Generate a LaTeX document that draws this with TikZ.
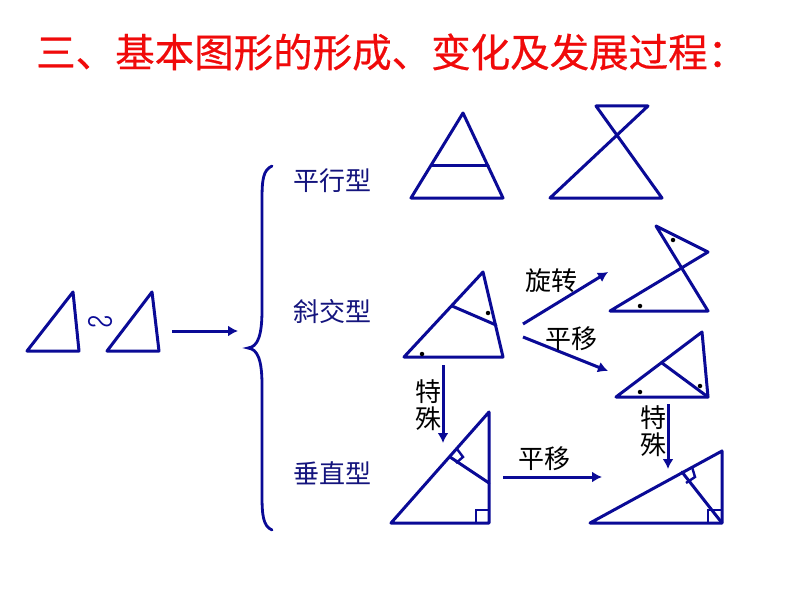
\documentclass[tikz,border=0pt]{standalone}
\usepackage{fontspec}
\usepackage{xcolor}
\usetikzlibrary{arrows.meta,positioning}
\setmainfont{Noto Sans CJK SC}
\newfontfamily\titlefont[FakeBold=0.5]{Noto Sans CJK SC}
\definecolor{navy}{HTML}{0A0A96}
\definecolor{labelblue}{HTML}{14147D}
\definecolor{titlered}{HTML}{F00A0A}

\begin{document}
\begin{tikzpicture}[
  x=1pt,y=-1pt,
  fig/.style={draw=navy,line width=3pt,line join=round,line cap=round},
  tick/.style={draw=navy,line width=2.4pt,line join=miter},
  arr/.style={draw=navy,line width=3pt,-{Latex[length=10pt,width=11pt]}},
  kind/.style={font=\fontsize{26}{26}\selectfont,color=labelblue,inner sep=0pt},
  move/.style={font=\fontsize{26}{26}\selectfont,color=black,inner sep=0pt},
  spot/.style={circle,fill=black,inner sep=0pt,minimum size=4.5pt}
]
\useasboundingbox[fill=white] (0,0) rectangle (794,596);
\node[font=\titlefont\fontsize{39.5}{39.5}\selectfont,color=titlered,anchor=west,inner sep=0pt] (title) at (36,52) {三、基本图形的形成、变化及发展过程：};

% similar pair on the left
\draw[fig] (73,292) -- (27,351) -- (79,351) -- cycle;
\draw[fig] (152,292) -- (107,351) -- (159,351) -- cycle;
\node[font=\fontsize{26}{26}\selectfont,color=navy,inner sep=0pt] (sim) at (100,324) {\reflectbox{∽}};

% brace and the three kinds
\coordinate (left) at (172,331);
\coordinate (bracein) at (238,331);
\draw[arr] (left) -- (bracein);
\draw[navy,line width=2.8pt,line cap=round] (272,166) .. controls (263,170) and (262,180) .. (262,200)
  -- (262,310) .. controls (262,335) and (258,347) .. (248,348)
  .. controls (258,349) and (262,361) .. (262,385)
  -- (262,495) .. controls (262,515) and (263,526) .. (272,530);
\node[kind] (parallel) at (332,181) {平行型};
\node[kind] (oblique) at (332,312) {斜交型};
\node[kind] (vertical) at (332,473) {垂直型};

% parallel type
\draw[fig] (463,113) -- (411,198) -- (503,198) -- cycle;
\draw[fig] (432,166) -- (488,166);
\draw[fig] (550,198) -- (662,198) -- (596,106) -- (648,106) -- cycle;

% oblique type
\draw[fig] (483,272) -- (404,357) -- (503,357) -- cycle;
\draw[fig] (452,306) -- (496,325);
\node[spot] (a1) at (488,313) {};
\node[spot] (a2) at (422,354) {};
% rotated copy
\draw[fig] (610,311) -- (708,311) -- (656,226) -- (708,252) -- cycle;
\node[spot] (b1) at (673,240) {};
\node[spot] (b2) at (640,306) {};
% translated copy
\draw[fig] (702,332) -- (616,397) -- (708,397) -- cycle;
\draw[fig] (662,363) -- (708,397);
\node[spot] (c1) at (640,392) {};
\node[spot] (c2) at (700,386) {};

% perpendicular type
\draw[fig] (489,412) -- (391,523) -- (489,523) -- cycle;
\draw[fig] (450,457) -- (489,483);
\draw[tick] (476,523) -- (476,510) -- (489,510);
\draw[tick] (457,449) -- (463,457) -- (456,463);
\draw[fig] (722,451) -- (590,523) -- (722,523) -- cycle;
\draw[fig] (682,472) -- (722,523);
\draw[tick] (708,523) -- (708,510) -- (722,510);
\draw[tick] (692,467) -- (695,477) -- (686,483);

% transforms between the figures
\coordinate (rot1) at (523,324);
\coordinate (rot2) at (608,272);
\coordinate (tr1) at (523,337);
\coordinate (tr2) at (608,371);
\coordinate (sp1) at (443,365);
\coordinate (sp2) at (443,443);
\coordinate (sq1) at (668,404);
\coordinate (sq2) at (668,469);
\coordinate (hz1) at (503,477);
\coordinate (hz2) at (602,477);
\draw[arr] (rot1) -- (rot2);
\draw[arr] (tr1) -- (tr2);
\draw[arr] (sp1) -- (sp2);
\draw[arr] (sq1) -- (sq2);
\draw[arr] (hz1) -- (hz2);
\node[move] (rotlabel) at (551,281) {旋转};
\node[move] (trlabel) at (571,339) {平移};
\node[move] (hzlabel) at (544,459) {平移};
\node[move] (sp3) at (428,392) {特};
\node[move] (sp4) at (428,419) {殊};
\node[move] (sq3) at (653,418) {特};
\node[move] (sq4) at (653,445) {殊};
\end{tikzpicture}
\end{document}
